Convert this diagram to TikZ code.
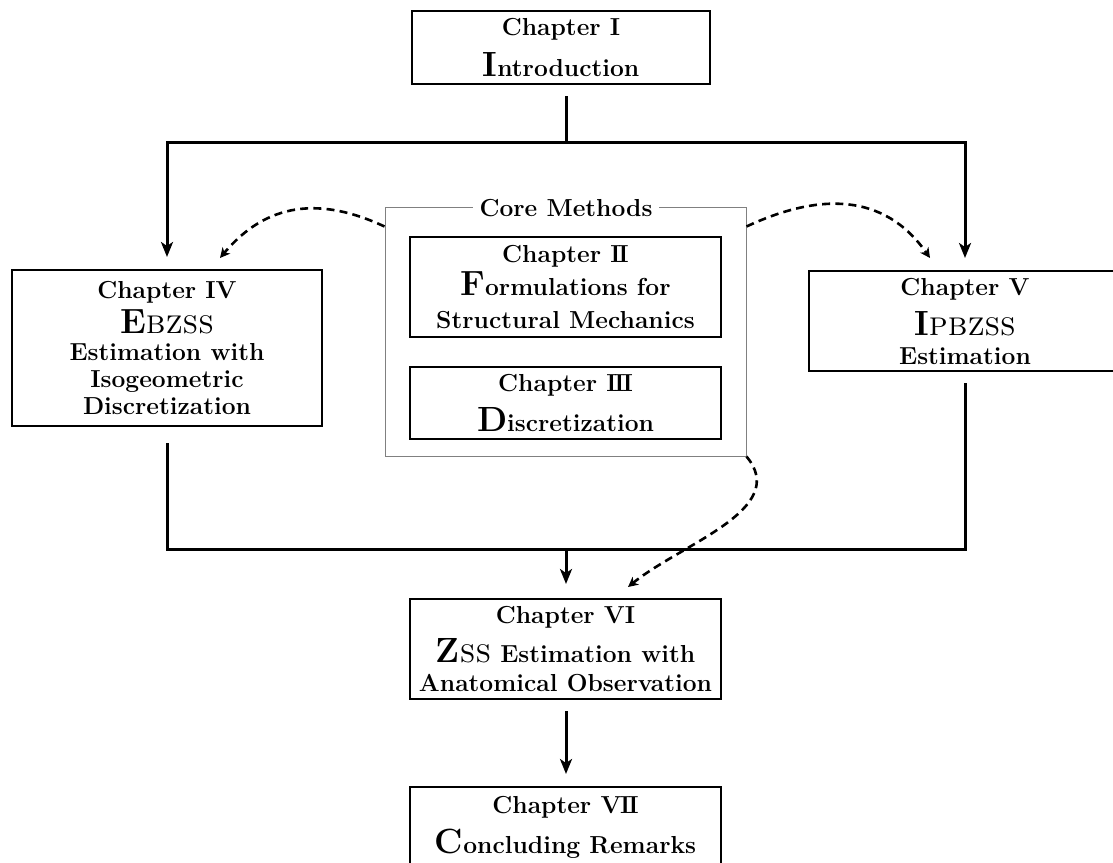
\documentclass[tikz,border=0pt]{standalone}
\usepackage{fontspec}
\usetikzlibrary{arrows.meta}
\newcommand{\bigini}[1]{{\fontsize{17.5}{17.5}\selectfont #1}}
\newcommand{\scpart}[1]{{\fontsize{17}{17}\selectfont\mdseries\scshape #1}}
\newcommand{\rmII}{I\kern-.09em I}
\newcommand{\rmIII}{I\kern-.09em I\kern-.09em I}
\newcommand{\rmVII}{V\kern-.05em I\kern-.09em I}
\tikzset{
  chbox/.style={draw, line width=1pt, align=center, inner sep=0pt,
    font=\bfseries\fontsize{12.3}{14.5}\selectfont},
  conn/.style={line width=1.5pt},
  arr/.style={conn, -{Stealth[length=7.5pt,width=6pt,inset=2pt]}},
  dsh/.style={line width=1.3pt, dash pattern=on 4pt off 2.6pt,
    -{Stealth[length=5pt,width=5pt,inset=1.5pt]}},
  frame/.style={draw=black!50, line width=0.5pt, inner sep=0pt}
}
\begin{document}
\begin{tikzpicture}[x=0.5pt,y=-0.5pt]
\useasboundingbox (0,0) rectangle (1113,862);
% core frame
\node[frame, minimum width=180.5pt, minimum height=124.5pt] (core) at (565.5,331.5) {};
\node[fill=white, inner sep=3.5pt, font=\bfseries\fontsize{12.3}{14.5}\selectfont] (corelbl) at (566,208) {Core Methods};
% boxes
\node[chbox, minimum width=149pt, minimum height=36.5pt] (chI) at (561,47.5)
  {Chapter I\\[6pt]\bigini{I}ntroduction};
\node[chbox, minimum width=155.5pt, minimum height=50pt] (chII) at (565.5,287)
  {Chapter \rmII\\[2pt]\bigini{F}ormulations for\\[2pt]Structural Mechanics};
\node[chbox, minimum width=155.5pt, minimum height=36pt] (chIII) at (565.5,403)
  {Chapter \rmIII\\[5.5pt]\bigini{D}iscretization};
\node[chbox, minimum width=155pt, minimum height=78pt] (chIV) at (167,348)
  {Chapter IV\\[3pt]\bigini{E}\scpart{bzss}\\[-1pt]Estimation with\\[-1pt]Isogeometric\\[-1pt]Discretization};
\node[chbox, minimum width=156pt, minimum height=50pt] (chV) at (965,321)
  {Chapter V\\[5.5pt]\bigini{I}\scpart{pbzss}\\Estimation};
\node[chbox, minimum width=155.5pt, minimum height=50pt] (chVI) at (565.5,649)
  {Chapter VI\\[5pt]\bigini{Z}\scpart{ss} Estimation with\\Anatomical Observation};
\node[chbox, minimum width=155.5pt, minimum height=40pt] (chVII) at (565.5,827)
  {Chapter \rmVII\\[4.5pt]\bigini{C}oncluding Remarks};
% junctions
\coordinate (jt) at (566,142);
\coordinate (jb) at (566,549);
\draw[conn, shorten <=5.5pt] (chI.south -| jt) -- (jt);
\draw[arr, shorten >=6pt] (jt) -| (chIV);
\draw[arr, shorten >=6pt] (jt) -| (chV);
\draw[conn, shorten <=8pt] (chIV) |- (jb);
\draw[conn, shorten <=5.5pt] (chV) |- (jb);
\draw[arr, shorten >=7pt] (jb) -- (chVI.north -| jb);
\draw[arr, shorten <=5.5pt, shorten >=6pt] (chVI.south -| jb) -- (chVII.north -| jb);
% dashed arrows
\coordinate (dl) at ([yshift=-10pt]core.north west);
\coordinate (dr) at ([yshift=-10pt]core.north east);
\coordinate (tl) at (220,258);
\coordinate (tr) at (930,258);
\coordinate (tb) at (628,587);
\draw[dsh] (dl) to[out=155,in=50,looseness=1.1] (tl);
\draw[dsh] (dr) to[out=25,in=125,looseness=1.1] (tr);
\draw[dsh] (core.south east) to[out=-50,in=39] (tb);
\end{tikzpicture}
\end{document}
